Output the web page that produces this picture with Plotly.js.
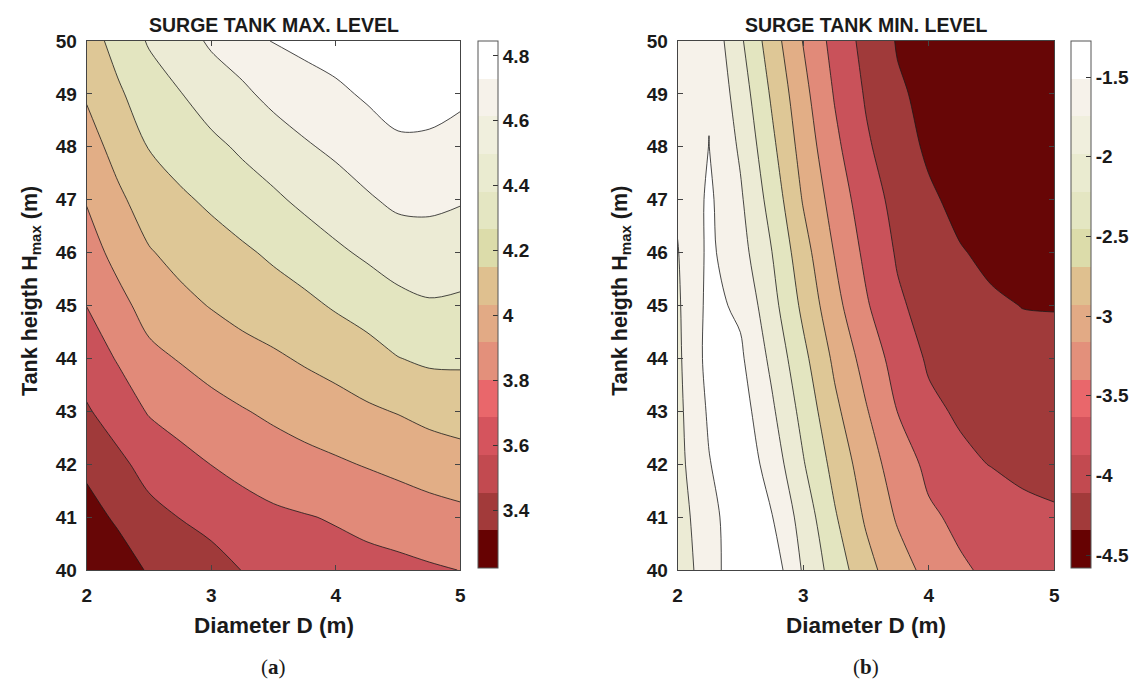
<!DOCTYPE html>
<html>
<head>
<meta charset="utf-8">
<script src="https://cdn.plot.ly/plotly-3.0.1.min.js"></script>
<style>
html,body{margin:0;padding:0;background:#ffffff;}
#chart{width:1135px;height:684px;}
</style>
</head>
<body>
<div id="chart"></div>
<script>
// ---------- data ----------
// (a) surge tank max. level
const diameterA = [2, 2.25, 2.5, 2.75, 3, 3.25, 3.5, 3.75, 4, 4.25, 4.5, 4.75, 5];
const heightA = [40, 41, 42, 43, 44, 45, 46, 47, 48, 49, 50];
const maxLevel = [
  [3.21, 3.30, 3.40, 3.43, 3.48, 3.55, 3.62, 3.64, 3.65, 3.66, 3.67, 3.69, 3.71],
  [3.32, 3.41, 3.50, 3.55, 3.60, 3.65, 3.68, 3.70, 3.72, 3.75, 3.78, 3.81, 3.83],
  [3.42, 3.51, 3.60, 3.66, 3.71, 3.75, 3.79, 3.82, 3.85, 3.88, 3.91, 3.94, 3.97],
  [3.53, 3.62, 3.72, 3.77, 3.82, 3.86, 3.90, 3.94, 3.97, 4.01, 4.04, 4.08, 4.10],
  [3.62, 3.72, 3.83, 3.88, 3.93, 3.98, 4.01, 4.05, 4.09, 4.13, 4.19, 4.22, 4.22],
  [3.71, 3.82, 3.93, 3.99, 4.04, 4.08, 4.12, 4.16, 4.21, 4.26, 4.31, 4.34, 4.33],
  [3.80, 3.92, 4.02, 4.08, 4.13, 4.17, 4.22, 4.27, 4.33, 4.38, 4.43, 4.45, 4.43],
  [3.88, 4.00, 4.11, 4.17, 4.22, 4.28, 4.33, 4.39, 4.44, 4.50, 4.55, 4.55, 4.53],
  [3.96, 4.09, 4.20, 4.26, 4.32, 4.38, 4.44, 4.50, 4.55, 4.60, 4.65, 4.65, 4.62],
  [4.05, 4.17, 4.28, 4.35, 4.43, 4.49, 4.56, 4.61, 4.65, 4.70, 4.75, 4.74, 4.71],
  [4.12, 4.25, 4.37, 4.45, 4.54, 4.60, 4.69, 4.72, 4.75, 4.80, 4.84, 4.84, 4.80]
];
// (b) surge tank min. level
const diameterB = [2, 2.25, 2.5, 2.75, 3, 3.25, 3.5, 3.75, 4, 4.25, 4.5, 4.75, 5];
const heightB = [40, 41, 42, 43, 44, 45, 46, 47, 48, 49, 50];
const minLevel = [
  [-2.08, -1.80, -1.30, -1.40, -1.97, -2.41, -2.81, -3.12, -3.35, -3.55, -3.64, -3.70, -3.76],
  [-2.06, -1.75, -1.33, -1.59, -2.07, -2.56, -2.97, -3.29, -3.54, -3.65, -3.73, -3.86, -3.89],
  [-2.04, -1.62, -1.38, -1.74, -2.24, -2.70, -3.09, -3.42, -3.66, -3.85, -3.93, -3.97, -3.99],
  [-2.02, -1.56, -1.45, -1.88, -2.37, -2.85, -3.23, -3.59, -3.85, -3.96, -4.03, -4.07, -4.08],
  [-2.00, -1.50, -1.55, -2.01, -2.51, -2.99, -3.38, -3.72, -3.96, -4.05, -4.12, -4.16, -4.17],
  [-1.98, -1.52, -1.66, -2.15, -2.67, -3.15, -3.55, -3.87, -4.03, -4.14, -4.21, -4.255, -4.26],
  [-1.95, -1.54, -1.81, -2.26, -2.80, -3.27, -3.66, -3.95, -4.11, -4.23, -4.31, -4.37, -4.41],
  [-1.89, -1.55, -1.89, -2.39, -2.95, -3.39, -3.76, -4.02, -4.20, -4.33, -4.40, -4.45, -4.48],
  [-1.84, -1.60, -1.98, -2.52, -3.06, -3.51, -3.87, -4.11, -4.30, -4.38, -4.44, -4.49, -4.52],
  [-1.78, -1.62, -2.09, -2.64, -3.16, -3.61, -3.95, -4.21, -4.32, -4.41, -4.47, -4.52, -4.55],
  [-1.72, -1.68, -2.21, -2.77, -3.27, -3.70, -4.02, -4.27, -4.36, -4.44, -4.50, -4.55, -4.58]
];
const xTicks = [2, 3, 4, 5];
const yTicks = [40, 41, 42, 43, 44, 45, 46, 47, 48, 49, 50];
const barTicksA = [3.4, 3.6, 3.8, 4, 4.2, 4.4, 4.6, 4.8];
const barTextA = ['3.4', '3.6', '3.8', '4', '4.2', '4.4', '4.6', '4.8'];
const barTicksB = [-4.5, -4, -3.5, -3, -2.5, -2, -1.5];
const barTextB = ['-4.5', '-4', '-3.5', '-3', '-2.5', '-2', '-1.5'];
const bandColors = ['#670606', '#a03a3a', '#c9525a', '#e18a79', '#e2ae86',
                    '#dec796', '#e3e5c0', '#ecebd5', '#f6f2ea', '#ffffff'];
const mapColors = ['#660202', '#a23a3a', '#c24a50', '#d5545d', '#e9676b', '#e3907b', '#e2aa85',
                   '#dfc08f', '#dcdcaa', '#e4e6c2', '#eaebd0', '#f0efdd', '#f6f2ea', '#ffffff'];

// ---------- styling helpers ----------
function stepScale(cols) {
  const s = [];
  cols.forEach((c, i) => { s.push([i / cols.length, c]); s.push([(i + 1) / cols.length, c]); });
  return s;
}
function bandScale(cols) {
  return cols.map((c, i) => [i / (cols.length - 1), c]);
}
const FONT = 'Liberation Sans, Arial, Helvetica, sans-serif';
const tickFont = {family: FONT, size: 19, color: '#1a1a1a', weight: 'bold'};
const W = 1135, H = 684;
const px = v => v / W, py = v => (H - v) / H;

function cbar(xLeft, ticks, text) {
  return {
    x: px(xLeft), xanchor: 'left', xref: 'paper', xpad: 0,
    y: py(41), yanchor: 'top', yref: 'paper', ypad: 0,
    len: (568 - 41) / H, lenmode: 'fraction', thickness: 20,
    outlinewidth: 1, outlinecolor: '#555',
    tickvals: ticks, ticktext: text, ticks: 'inside', ticklen: 5, tickcolor: '#333',
    tickfont: tickFont
  };
}

const traces = [
  {type: 'heatmap', x: diameterA, y: heightA, z: maxLevel, xaxis: 'x', yaxis: 'y',
   zmin: 3.222, zmax: 4.846, colorscale: stepScale(mapColors), showscale: true,
   colorbar: cbar(480, barTicksA, barTextA), hoverinfo: 'skip'},
  {type: 'contour', x: diameterA, y: heightA, z: maxLevel, xaxis: 'x', yaxis: 'y',
   autocontour: false,
   contours: {start: 3.384, end: 4.68, size: 0.162, coloring: 'fill', showlines: true},
   line: {color: '#1a1a1a', width: 0.8, smoothing: 0.9},
   colorscale: bandScale(bandColors), showscale: false},
  {type: 'heatmap', x: diameterB, y: heightB, z: minLevel, xaxis: 'x2', yaxis: 'y2',
   zmin: -4.58, zmax: -1.274, colorscale: stepScale(mapColors), showscale: true,
   colorbar: cbar(1075, barTicksB, barTextB), hoverinfo: 'skip'},
  {type: 'contour', x: diameterB, y: heightB, z: minLevel, xaxis: 'x2', yaxis: 'y2',
   autocontour: false,
   contours: {start: -4.249, end: -1.604, size: 0.3306, coloring: 'fill', showlines: true},
   line: {color: '#1a1a1a', width: 0.8, smoothing: 0.9},
   colorscale: bandScale(bandColors), showscale: false}
];

function xax(domain, anchor) {
  return {domain: domain, anchor: anchor, range: [2, 5], tickvals: xTicks,
    ticks: 'inside', ticklen: 5, tickcolor: '#444', showline: true, linecolor: '#444',
    linewidth: 1, mirror: 'ticks', showgrid: false, zeroline: false, tickfont: tickFont,
    ticklabelstandoff: 8};
}
function yax(anchor) {
  return {domain: [py(570), py(41)], anchor: anchor, range: [40, 50], tickvals: yTicks,
    ticks: 'inside', ticklen: 5, tickcolor: '#444', showline: true, linecolor: '#444',
    linewidth: 1, mirror: 'ticks', showgrid: false, zeroline: false, tickfont: tickFont,
    ticklabelstandoff: 5};
}

const boldText = (size) => ({family: FONT, size: size, color: '#1a1a1a', weight: 'bold'});
const ann = (x, y, text, font, angle) => ({xref: 'paper', yref: 'paper', x: px(x), y: py(y),
  xanchor: 'center', yanchor: 'middle', text: text, showarrow: false, font: font, textangle: angle || 0});

const layout = {
  width: W, height: H, margin: {l: 0, r: 0, t: 0, b: 0},
  paper_bgcolor: '#ffffff', plot_bgcolor: '#ffffff', showlegend: false,
  xaxis: xax([px(87), px(462)], 'y'),
  yaxis: yax('x'),
  xaxis2: xax([px(680), px(1058)], 'y2'),
  yaxis2: yax('x2'),
  annotations: [
    ann(274.5, 25, 'SURGE TANK MAX. LEVEL', boldText(19.5)),
    ann(869, 25, 'SURGE TANK MIN. LEVEL', boldText(19.5)),
    ann(274.5, 625, 'Diameter D (m)', boldText(22.5)),
    ann(869, 625, 'Diameter D (m)', boldText(22.5)),
    ann(31, 291, 'Tank heigth H<sub>max</sub> (m)', boldText(21.5), -90),
    ann(623, 291, 'Tank heigth H<sub>max</sub> (m)', boldText(21.5), -90),
    ann(274.5, 667, '(<b>a</b>)', {family: 'Liberation Serif, DejaVu Serif, serif', size: 21, color: '#1a1a1a'}),
    ann(869, 667, '(<b>b</b>)', {family: 'Liberation Serif, DejaVu Serif, serif', size: 21, color: '#1a1a1a'})
  ]
};

Plotly.newPlot('chart', traces, layout, {displayModeBar: false, staticPlot: true});
</script>
</body>
</html>
